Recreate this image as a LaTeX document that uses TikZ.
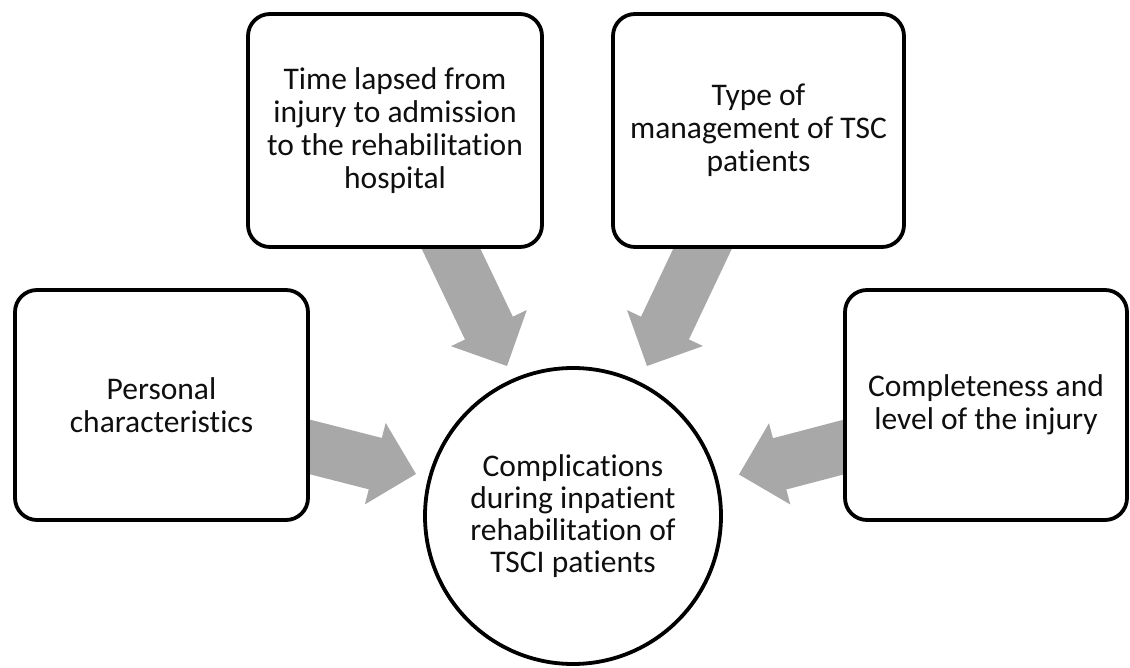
\documentclass[tikz,border=0pt]{standalone}
\usepackage{fontspec}
\setmainfont[Ligatures=NoCommon]{Carlito}
\usetikzlibrary{calc,backgrounds}
\definecolor{arrowgray}{RGB}{168,168,168}
\definecolor{inkblack}{RGB}{15,15,15}
\tikzset{
  box/.style={draw=black, line width=3.8pt, rounded corners=22pt, fill=white,
    align=center, inner sep=0pt, text=inkblack, font=\fontsize{31.5}{33}\selectfont},
  hub/.style={draw=black, line width=3.8pt, circle, fill=white, align=center,
    inner sep=0pt, minimum size=296pt, text=inkblack, font=\fontsize{31.5}{32}\selectfont},
}
% block arrow: #1 tail centre, #2 tip
\newcommand{\blockarrow}[2]{%
  \coordinate (hbase) at ($(#2)!42pt!(#1)$);
  \fill[arrowgray]
    ($(#1)!26.5pt!90:(#2)$) --
    ($(hbase)!26.5pt!90:(#2)$) --
    ($(hbase)!42pt!90:(#2)$) --
    (#2) --
    ($(hbase)!42pt!-90:(#2)$) --
    ($(hbase)!26.5pt!-90:(#2)$) --
    ($(#1)!26.5pt!-90:(#2)$) -- cycle;
}
\begin{document}
\begin{tikzpicture}[x=1pt,y=-1pt]
\useasboundingbox (0,0) rectangle (1130,668);
\node[box, minimum width=294pt, minimum height=233pt] (time) at (395,130.5)
  {Time lapsed from\\injury to admission\\to the rehabilitation\\hospital};
\node[box, minimum width=291pt, minimum height=233pt] (type) at (758.5,130.5)
  {Type of\\management of TSC\\patients};
\node[box, minimum width=293pt, minimum height=230pt] (pers) at (161.5,405)
  {Personal\\characteristics};
\node[box, minimum width=282pt, minimum height=230pt] (comp) at (986,405)
  {Completeness and\\level of the injury};
\node[hub] (hub) at (573,516)
  {Complications\\during inpatient\\rehabilitation of\\TSCI patients};
\coordinate (tipA) at (507,366);
\coordinate (tipB) at (647,366);
\coordinate (tipC) at (416,474);
\coordinate (tipD) at (739,474.5);
\begin{scope}[on background layer]
  \coordinate (tailA) at ($(time.south)+(47.5,-18)$);
  \coordinate (tailB) at ($(type.south)+(-47.5,-18)$);
  \coordinate (tailC) at ($(pers.east)+(-17.5,37.5)$);
  \coordinate (tailD) at ($(comp.west)+(18,37.5)$);
  \blockarrow{tailA}{tipA}
  \blockarrow{tailB}{tipB}
  \blockarrow{tailC}{tipC}
  \blockarrow{tailD}{tipD}
\end{scope}
\end{tikzpicture}
\end{document}
